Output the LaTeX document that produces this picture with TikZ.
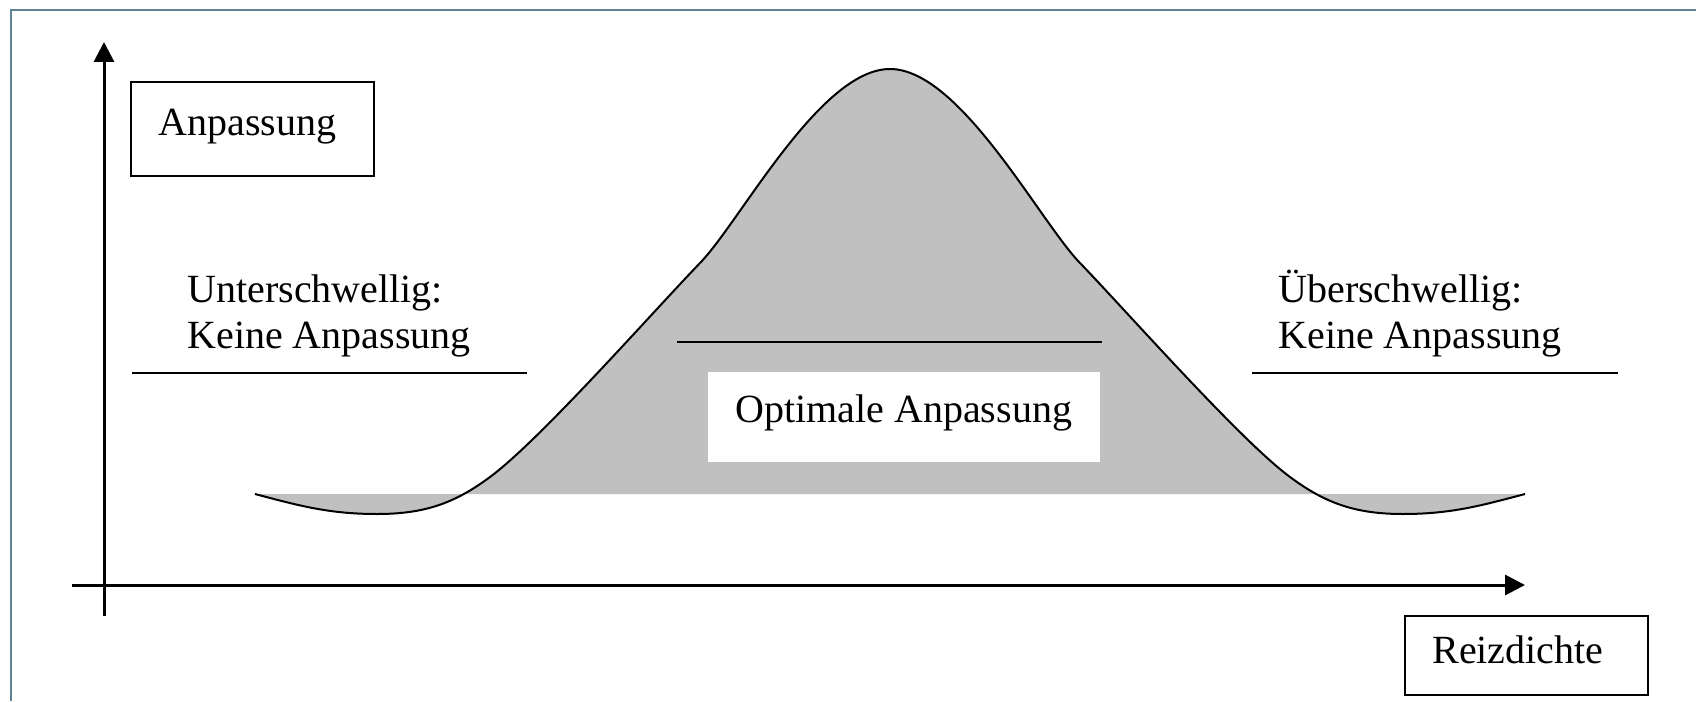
\documentclass[tikz,border=0pt]{standalone}
\usepackage{fontspec}
\setmainfont{Liberation Serif}
\usetikzlibrary{arrows.meta}
\definecolor{framecol}{HTML}{5E8294}
\definecolor{humpgray}{HTML}{C0C0C0}
\begin{document}
\begin{tikzpicture}[x=0.5pt,y=-0.5pt,
  lbl/.style={font=\fontsize{20pt}{24pt}\selectfont, inner sep=0pt, anchor=base west},
  framebox/.style={draw, line width=1.2pt, inner sep=0pt},
  whitebox/.style={fill=white, inner sep=0pt},
  axis/.style={line width=1.5pt, -{Triangle[length=10pt,width=10pt]}},
  rulel/.style={line width=1pt},
  curve/.style={line width=1pt}]
\useasboundingbox (0,0) rectangle (1696,701);
% frame
\draw[framecol, line width=1pt] (11,701) -- (11,10) -- (1696,10);
% hump
\coordinate (c0) at (255,494);
\coordinate (c1) at (377,514);
\coordinate (c1b) at (490,477);
\coordinate (c2) at (700,263);
\coordinate (c3) at (890,69);
\coordinate (c4) at (1080,263);
\coordinate (c4b) at (1290,477);
\coordinate (c5) at (1403,514);
\coordinate (c6) at (1525,494);
\fill[humpgray] (c0) .. controls (300,506) and (330,514) .. (c1)
  .. controls (425,514) and (455,503) .. (c1b)
  .. controls (540,440) and (650,315) .. (c2)
  .. controls (740,222) and (820,69) .. (c3)
  .. controls (960,69) and (1040,222) .. (c4)
  .. controls (1130,315) and (1240,440) .. (c4b)
  .. controls (1325,503) and (1355,514) .. (c5)
  .. controls (1450,514) and (1480,506) .. (c6) -- cycle;
\draw[curve] (c0) .. controls (300,506) and (330,514) .. (c1)
  .. controls (425,514) and (455,503) .. (c1b)
  .. controls (540,440) and (650,315) .. (c2)
  .. controls (740,222) and (820,69) .. (c3)
  .. controls (960,69) and (1040,222) .. (c4)
  .. controls (1130,315) and (1240,440) .. (c4b)
  .. controls (1325,503) and (1355,514) .. (c5)
  .. controls (1450,514) and (1480,506) .. (c6);
% axes
\coordinate (yfoot) at (104,616);
\coordinate (ytip) at (104,42);
\coordinate (xfoot) at (72,585);
\coordinate (xtip) at (1525,585);
\draw[axis] (yfoot) -- (ytip);
\draw[axis] (xfoot) -- (xtip);
% axis label boxes
\node[framebox, minimum width=121.5pt, minimum height=47pt] (ybox) at (252.5,129) {};
\node[lbl] (ylab) at (158,135) {Anpassung};
\node[framebox, minimum width=121.5pt, minimum height=39.5pt] (xbox) at (1526.5,655.5) {};
\node[lbl] (xlab) at (1432,663) {Reizdichte};
% region rules
\coordinate (lrA) at (132,373); \coordinate (lrB) at (527,373);
\coordinate (mrA) at (677,342); \coordinate (mrB) at (1102,342);
\coordinate (rrA) at (1252,373); \coordinate (rrB) at (1618,373);
\draw[rulel] (lrA) -- (lrB);
\draw[rulel] (mrA) -- (mrB);
\draw[rulel] (rrA) -- (rrB);
% optimal box
\node[whitebox, minimum width=196pt, minimum height=45pt] (optbox) at (904,417) {};
\node[lbl] (optlab) at (735,422) {Optimale Anpassung};
% side labels
\node[lbl] (unter1) at (187,302) {Unterschwellig:};
\node[lbl] (unter2) at (187,348) {Keine Anpassung};
\node[lbl] (ueber1) at (1278,302) {Überschwellig:};
\node[lbl] (ueber2) at (1278,348) {Keine Anpassung};
\end{tikzpicture}
\end{document}
